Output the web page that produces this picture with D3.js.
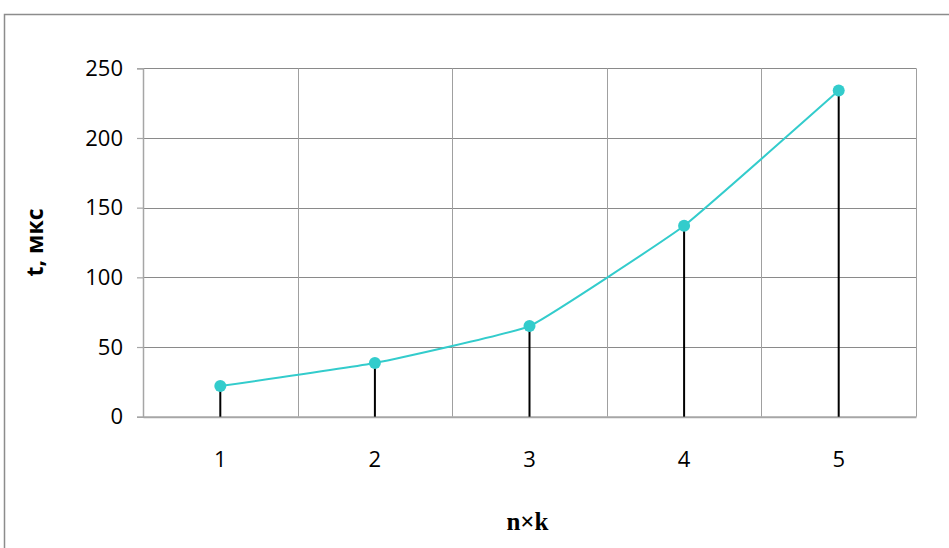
<!DOCTYPE html>
<html>
<head>
<meta charset="utf-8">
<script src="https://cdn.jsdelivr.net/npm/d3@7"></script>
<style>
  html, body { margin: 0; padding: 0; background: #fff; }
  svg { display: block; }
</style>
</head>
<body>
<svg id="chart" width="949" height="548"></svg>
<script>
// Execution time versus problem size n×k
const categories = ["1", "2", "3", "4", "5"];
const timeValues = [22, 38.5, 65, 137, 234];
const yTicks = [0, 50, 100, 150, 200, 250];
const xTitle = "n×k";
const yTitle = "t, мкс";

const svg = d3.select("#chart");
const plot = { left: 143, right: 916, top: 68.3, bottom: 416.7 };

// outer chart frame (runs off the right and bottom edges)
svg.append("rect")
  .attr("x", 4.5).attr("y", 14.5)
  .attr("width", 1000).attr("height", 600)
  .attr("fill", "none").attr("stroke", "#8c8c8c").attr("stroke-width", 1.5);

const x = d3.scaleBand().domain(categories).range([plot.left, plot.right]).paddingInner(0).paddingOuter(0);
const y = d3.scaleLinear().domain([0, 250]).range([plot.bottom, plot.top]);

// horizontal gridlines
svg.append("g").selectAll("line").data(yTicks.filter(d => d > 0)).join("line")
  .attr("x1", plot.left).attr("x2", plot.right)
  .attr("y1", d => Math.round(y(d)) + 0.5).attr("y2", d => Math.round(y(d)) + 0.5)
  .attr("stroke", "#8a8a8a").attr("stroke-width", 1);

// vertical gridlines at category boundaries
const bounds = categories.map(c => x(c)).slice(1).concat([plot.right]);
svg.append("g").selectAll("line").data(bounds).join("line")
  .attr("x1", d => Math.round(d) + 0.5).attr("x2", d => Math.round(d) + 0.5)
  .attr("y1", plot.top).attr("y2", plot.bottom)
  .attr("stroke", "#a0a0a0").attr("stroke-width", 1);

// y axis
const yAxis = d3.axisLeft(y).tickValues(yTicks).tickSize(6).tickPadding(14);
const gy = svg.append("g").attr("transform", `translate(${plot.left},0)`).call(yAxis);
gy.select(".domain").attr("stroke", "#a6a6a6").attr("stroke-width", 1.5);
gy.selectAll(".tick line").attr("stroke", "#a6a6a6").attr("stroke-width", 1.2);
gy.selectAll(".tick text")
  .attr("font-family", "'Open Sans', sans-serif").attr("font-size", 22)
  .attr("fill", "#000");

// x axis (labels only, no tick marks)
const xAxis = d3.axisBottom(x).tickSize(0).tickPadding(35);
const gx = svg.append("g").attr("transform", `translate(0,${plot.bottom})`).call(xAxis);
gx.select(".domain").attr("stroke", "#a6a6a6").attr("stroke-width", 2);
gx.selectAll(".tick text")
  .attr("font-family", "'Open Sans', sans-serif").attr("font-size", 22)
  .attr("fill", "#000");

const cx = d => x(d) + x.bandwidth() / 2;
const pts = categories.map((c, i) => ({ c, v: timeValues[i] }));

// drop lines from each point to the axis
svg.append("g").selectAll("line").data(pts).join("line")
  .attr("x1", d => cx(d.c)).attr("x2", d => cx(d.c))
  .attr("y1", d => y(d.v)).attr("y2", plot.bottom)
  .attr("stroke", "#000").attr("stroke-width", 2);

// lightly smoothed series line
const line = d3.line()
  .x(d => cx(d.c)).y(d => y(d.v))
  .curve(d3.curveCardinal.tension(0.7));
svg.append("path").datum(pts)
  .attr("d", line)
  .attr("fill", "none").attr("stroke", "#33CCCC").attr("stroke-width", 2);

// markers
svg.append("g").selectAll("circle").data(pts).join("circle")
  .attr("cx", d => cx(d.c)).attr("cy", d => y(d.v)).attr("r", 6)
  .attr("fill", "#33CCCC");

// axis titles
svg.append("text")
  .attr("x", (plot.left + plot.right) / 2 - 2).attr("y", 530)
  .attr("text-anchor", "middle")
  .attr("font-family", "'Liberation Serif', 'Times New Roman', serif")
  .attr("font-weight", "bold").attr("font-size", 25)
  .text(xTitle);

svg.append("text")
  .attr("transform", `translate(43,${(plot.top + plot.bottom) / 2}) rotate(-90)`)
  .attr("text-anchor", "middle")
  .attr("font-family", "'Open Sans', sans-serif")
  .attr("font-weight", "bold").attr("font-size", 23)
  .text(yTitle);
</script>
</body>
</html>
